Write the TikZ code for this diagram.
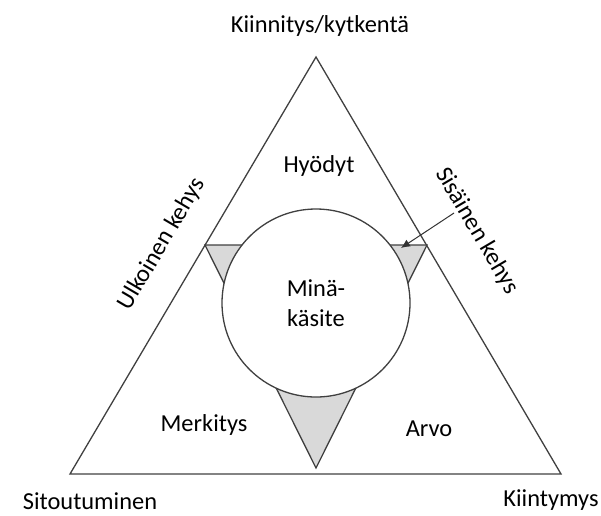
\documentclass[tikz,border=0pt]{standalone}
\usepackage{fontspec}
\setmainfont{Carlito}
\usetikzlibrary{arrows.meta, positioning, calc}

\begin{document}
\begin{tikzpicture}[
    x=1pt, y=-1pt,
    font=\fontsize{24.4}{30}\selectfont,
    % styles
    frame/.style={draw=black!75, line width=1.3pt, line join=miter},
    wedge/.style={draw=black!75, line width=1.3pt, fill=black!15},
    selfcircle/.style={circle, draw=black!75, line width=1.3pt, fill=white, minimum size=188pt, inner sep=0pt, align=center},
    lbl/.style={anchor=base, inner sep=0pt},
    side/.style={inner sep=0pt},
    arrow/.style={draw=black!80, line width=1pt, -{Latex[length=9pt, width=8pt]}}
]
\useasboundingbox (0,0) rectangle (601,515);

% --- corners ---
\coordinate (top) at (316,57);
\coordinate (left) at (70,474);
\coordinate (right) at (561,474);
\coordinate (inl) at (205,245);
\coordinate (inr) at (427,245);
\coordinate (inb) at (316,468);

% --- shapes ---
\draw[frame] (top) -- (left) -- (right) -- cycle;
\draw[wedge] (inl) -- (inr) -- (inb) -- cycle;
\node[selfcircle] (self) at (316,303) {Minä-\\käsite};

% --- labels ---
\node[lbl] (kiinnitys) at (320,32) {Kiinnitys/kytkentä};
\node[lbl] (sitoutuminen) at (90,509) {Sitoutuminen};
\node[lbl] (kiintymys) at (551,506) {Kiintymys};
\node[lbl] (hyodyt) at (319,172) {Hyödyt};
\node[lbl] (merkitys) at (204,431) {Merkitys};
\node[lbl] (arvo) at (429,436) {Arvo};
\node[side, rotate=59.5] (ulkoinen) at (162,244) {Ulkoinen kehys};
\node[side, rotate=-59.5] (sisainen) at (477,231) {Sisäinen kehys};

% --- arrow ---
\coordinate (sisfrom) at (454,213);
\coordinate (sisto) at (401,248);
\draw[arrow] (sisfrom) -- (sisto);

\end{tikzpicture}
\end{document}
